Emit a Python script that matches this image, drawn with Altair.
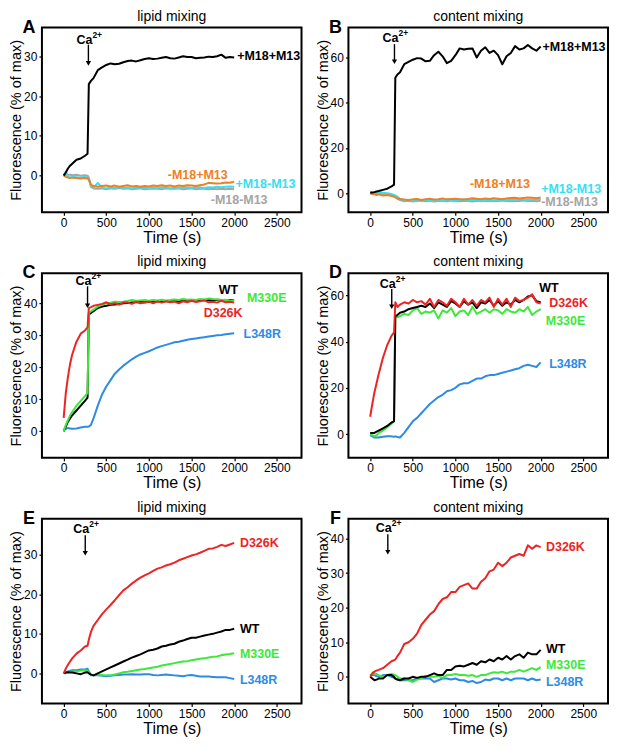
import altair as alt
import pandas as pd

FONT = "Liberation Sans"

# ---------------- data ----------------
TIME = [0, 25, 50, 75, 100, 150, 200, 250, 280, 295, 320, 350,
        400, 450, 500, 550, 600, 650, 700, 750, 800, 850,
        900, 950, 1000, 1050, 1100, 1150, 1200, 1250, 1300, 1350,
        1400, 1450, 1500, 1550, 1600, 1650, 1700, 1750, 1800, 1850,
        1900, 1950, 2000]

X_TICKS = [0, 500, 1000, 1500, 2000, 2500]

# Panel A - lipid mixing
A_PP = [0, 0.8, 1.8, 2.5, 3.0, 4.0, 4.3, 5.0, 5.5, 23.0, 23.8, 24.5,
        26.5, 27.2, 27.8, 28.2, 28.0, 28.1, 28.5, 28.8, 28.9, 28.7,
        29.0, 29.3, 29.5, 29.3, 29.4, 29.6, 29.8, 29.5, 29.4, 29.7,
        30.0, 29.8, 29.8, 29.5, 29.6, 29.7, 29.9, 29.8, 30.0, 30.4,
        29.6, 29.8, 29.7]
A_MP = [0, -0.3, -0.5, -0.6, -0.5, -0.6, -0.7, -0.6, -0.7, -1.0, -2.3, -2.6,
        -2.8, -2.6, -2.5, -2.7, -2.5, -2.8, -2.6, -2.4, -2.7, -2.6,
        -2.8, -2.6, -2.7, -2.5, -2.6, -2.4, -2.6, -2.5, -2.7, -2.5,
        -2.6, -2.4, -2.5, -2.6, -2.4, -2.2, -1.8, -1.9, -2.0, -1.9,
        -1.7, -1.8, -1.5]
A_PM = [0, 1.0, -0.2, -0.5, -0.3, -0.4, -0.5, -0.3, -0.5, -0.8, -2.5, -3.0,
        -1.8, -3.0, -3.2, -3.0, -3.1, -2.9, -3.1, -3.0, -3.2, -3.0,
        -3.1, -3.0, -3.2, -3.0, -3.1, -2.9, -3.0, -3.2, -3.0, -3.1,
        -2.9, -3.0, -3.1, -2.9, -3.0, -3.1, -2.9, -3.0, -2.8, -2.9,
        -2.8, -2.7, -2.8]
A_MM = [0, 0.3, 0.2, 0.2, 0.1, 0.2, 0.0, 0.1, 0.0, -0.5, -2.8, -3.2,
        -3.3, -3.2, -3.4, -3.2, -3.3, -3.1, -3.3, -3.2, -3.4, -3.3,
        -3.2, -3.4, -3.3, -3.2, -3.3, -3.4, -3.2, -3.3, -3.3, -3.2,
        -3.4, -3.3, -3.2, -3.4, -3.3, -3.3, -3.4, -3.3, -3.4, -3.3,
        -3.4, -3.3, -3.4]

# Panel B - content mixing
B_PP = [0.3, 0.3, 0.5, 0.8, 1.0, 1.5, 2.0, 3.0, 3.8, 51.0, 52.5, 53.5,
        57.0, 58.0, 59.0, 59.7, 59.5, 58.3, 58.5, 61.0, 62.5, 60.5,
        57.5, 58.5, 61.0, 64.0, 63.5, 63.8, 64.0, 60.0, 63.0, 64.5,
        62.0, 63.0, 61.0, 57.0, 60.5, 62.0, 65.0, 63.5, 64.0, 65.5,
        64.0, 63.0, 64.8]
B_MP = [0, -0.3, -0.5, -0.8, -0.5, -1.0, -0.8, -1.2, -1.5, -1.8, -2.2, -2.5,
        -2.8, -3.0, -2.7, -2.5, -3.0, -2.6, -2.4, -2.8, -2.6, -2.3,
        -2.7, -2.5, -2.4, -2.6, -2.8, -2.5, -2.2, -2.4, -2.6, -2.3,
        -2.5, -2.2, -2.4, -2.6, -2.3, -2.1, -2.0, -2.3, -2.1, -1.9,
        -2.0, -2.2, -1.9]
B_PM = [0, 0.3, 0.5, 0.3, 0.4, 0.2, 0.0, -0.3, -0.8, -1.0, -1.5, -2.5,
        -3.2, -3.0, -3.4, -3.1, -3.3, -2.9, -3.2, -3.4, -3.0, -3.3,
        -2.8, -3.1, -3.3, -3.0, -2.8, -3.2, -3.0, -2.9, -3.3, -3.1,
        -2.9, -3.2, -3.0, -2.9, -3.1, -2.8, -3.0, -2.7, -2.9, -3.0,
        -2.8, -2.6, -2.7]
B_MM = [0, 0.0, -0.2, -0.3, -0.2, -0.5, -0.6, -0.8, -1.2, -1.5, -2.5, -3.0,
        -3.5, -3.3, -3.6, -3.4, -3.2, -3.5, -3.3, -3.6, -3.4, -3.3,
        -3.5, -3.2, -3.4, -3.5, -3.3, -3.4, -3.6, -3.3, -3.5, -3.4,
        -3.3, -3.5, -3.4, -3.2, -3.4, -3.5, -3.3, -3.4, -3.2, -3.4,
        -3.3, -3.5, -3.3]

# Panel C - lipid mixing (mutants)
C_WT = [0, 1.5, 3.0, 4.0, 5.0, 6.5, 8.0, 9.5, 10.5, 36.5, 37.0, 37.5,
        38.5, 39.0, 39.2, 39.5, 39.6, 39.8, 40.0, 40.1, 40.2, 40.3,
        40.4, 40.3, 40.5, 40.4, 40.6, 40.5, 40.7, 40.6, 40.8, 40.6,
        40.8, 40.7, 40.9, 40.8, 41.0, 40.9, 41.0, 40.9, 41.1, 41.0,
        40.9, 41.0, 40.9]
C_D326K = [4.2, 12.0, 17.0, 21.0, 24.0, 28.0, 30.5, 31.5, 32.5, 38.5, 38.8, 39.2,
           39.5, 39.8, 40.3, 39.7, 40.0, 39.6, 40.3, 40.2, 39.8, 40.5,
           40.0, 40.2, 40.5, 40.0, 40.6, 40.2, 40.6, 40.3, 40.5, 40.0,
           40.6, 40.3, 40.8, 40.4, 40.6, 40.9, 40.3, 40.5, 40.2, 40.8,
           40.3, 40.5, 40.2]
C_M330E = [0, 2.0, 3.5, 5.0, 6.0, 8.0, 9.5, 11.0, 12.0, 37.0, 37.5, 38.0,
           39.0, 39.5, 40.0, 40.2, 40.5, 40.4, 40.5, 40.7, 41.0, 40.8,
           40.9, 41.0, 40.8, 41.0, 40.9, 41.1, 40.9, 41.0, 41.2, 41.0,
           41.3, 41.1, 41.2, 41.0, 41.3, 41.2, 41.5, 41.3, 41.2, 41.0,
           41.1, 40.9, 40.8]
C_L348R = [0.5, 0.8, 1.0, 0.9, 0.8, 0.9, 1.2, 1.4, 1.4, 1.5, 2.0, 4.0,
           8.0, 11.5, 14.0, 16.0, 18.0, 19.3, 20.5, 21.5, 22.5, 23.3,
           24.0, 24.5, 25.0, 25.6, 26.2, 26.6, 27.0, 27.4, 27.8, 28.0,
           28.3, 28.6, 28.8, 29.0, 29.2, 29.4, 29.6, 29.8, 30.0, 30.1,
           30.3, 30.5, 30.6]

# Panel D - content mixing (mutants)
D_WT = [0.5, 0.5, 0.5, 1.0, 1.5, 2.5, 3.5, 5.0, 5.5, 51.0, 51.5, 52.5,
        53.0, 54.0, 54.5, 55.0, 55.5, 55.0, 56.5, 54.5, 57.0, 56.0,
        55.0, 57.5, 56.5, 55.0, 57.5, 56.0, 57.0, 54.5, 57.0, 56.5,
        58.0, 55.5, 57.5, 55.5, 57.0, 56.0, 58.0, 57.0, 58.0, 59.5,
        60.0, 57.5, 57.0]
D_D326K = [7.5, 13.0, 18.0, 22.0, 26.0, 33.0, 38.5, 42.5, 44.0, 57.0, 55.0, 56.0,
           57.0, 56.5, 58.0, 57.0, 57.5, 56.0, 58.5, 55.0, 58.0, 57.0,
           55.5, 58.5, 57.0, 55.0, 58.5, 56.0, 58.0, 55.5, 58.0, 57.0,
           59.0, 55.0, 58.5, 56.0, 58.5, 55.0, 59.0, 57.5, 58.0, 59.0,
           60.5, 57.0, 56.5]
D_M330E = [0, -0.5, -1.0, -0.5, 0.5, 1.5, 3.0, 4.5, 5.5, 51.5, 50.5, 51.0,
           52.0, 51.5, 53.5, 54.5, 52.0, 53.0, 52.5, 53.5, 50.0, 53.5,
           52.5, 54.5, 51.0, 53.0, 53.5, 51.5, 55.0, 52.0, 53.0, 54.0,
           52.5, 54.0, 53.5, 52.0, 54.0, 53.0, 52.5, 54.0, 53.0, 55.0,
           51.5, 53.0, 54.0]
D_L348R = [-0.5, -1.0, -1.5, -1.5, -1.5, -1.2, -1.0, -1.0, -1.2, -1.0, -1.3, -1.5,
           0.5, 3.0, 5.5, 7.0, 9.0, 11.0, 13.0, 14.5, 16.0, 17.0,
           18.5, 19.0, 20.0, 21.5, 22.0, 22.0, 23.0, 24.0, 24.0, 25.0,
           25.5, 25.5, 26.0, 26.5, 27.0, 27.5, 28.0, 28.5, 29.5, 30.0,
           29.5, 29.0, 31.0]

# Panel E - lipid mixing (mutants)
E_WT = [0, 0.2, 0.3, 0.2, 0.2, 0.0, -0.2, 0.2, 0.3, 0.0, -0.3, -0.5,
        0.0, 0.5, 1.0, 1.5, 2.0, 2.5, 3.0, 3.5, 4.0, 4.4,
        4.8, 5.3, 5.8, 6.0, 6.3, 6.8, 7.0, 7.3, 7.5, 8.0,
        8.3, 8.7, 9.0, 9.0, 9.3, 9.6, 9.8, 10.0, 10.3, 10.6,
        11.0, 11.0, 11.3]
E_D326K = [0, 1.2, 2.2, 3.0, 3.8, 5.0, 5.8, 6.8, 7.0, 8.5, 10.5, 12.0,
           13.5, 15.0, 16.2, 17.3, 18.5, 19.8, 21.0, 21.8, 22.7, 23.5,
           24.2, 24.8, 25.3, 25.9, 26.5, 26.8, 27.3, 27.6, 28.0, 28.6,
           29.0, 29.4, 29.8, 30.1, 30.5, 31.0, 31.5, 31.6, 32.0, 32.5,
           32.2, 32.6, 33.0]
E_M330E = [0, 0.2, 0.3, 0.4, 0.5, 0.5, 0.7, 0.8, 0.7, 0.3, -0.5, -0.5,
           -0.3, -0.4, -0.5, -0.5, -0.3, 0.0, 0.3, 0.4, 0.6, 0.8,
           1.0, 1.1, 1.3, 1.5, 1.7, 2.0, 2.2, 2.4, 2.6, 2.8,
           3.0, 3.1, 3.3, 3.5, 3.7, 3.8, 4.0, 4.2, 4.3, 4.6,
           4.8, 4.9, 5.1]
E_L348R = [0, 0.3, 0.5, 0.7, 0.8, 0.8, 1.0, 1.0, 1.2, 0.5, -0.3, -0.5,
           -0.5, -0.6, -0.7, -0.6, -0.5, -0.4, -0.3, -0.3, -0.2, -0.3,
           -0.3, -0.2, -0.2, -0.4, -0.5, -0.4, -0.3, -0.4, -0.5, -0.6,
           -0.7, -0.5, -0.4, -0.6, -0.8, -0.8, -0.8, -0.9, -1.0, -1.0,
           -1.0, -1.2, -1.4]

# Panel F - content mixing (mutants)
F_WT = [0, -0.5, -1.0, -0.8, -0.5, -0.5, 0.5, 0.5, 0.0, -0.5, -0.8, -1.0,
        -0.5, -0.5, 0.0, -0.3, 0.0, 0.0, 0.5, 1.0, 0.5, 0.5,
        2.0, 2.0, 3.0, 3.2, 3.0, 3.5, 4.0, 3.5, 4.5, 4.2,
        5.0, 4.5, 5.5, 5.0, 6.0, 5.0, 6.0, 6.5, 5.5, 7.0,
        6.5, 6.5, 7.8]
F_D326K = [0, 1.0, 1.5, 1.8, 2.0, 2.5, 3.5, 4.5, 4.8, 5.0, 6.0, 7.0,
           9.5, 10.0, 11.0, 12.5, 15.0, 16.5, 18.0, 19.0, 21.0, 22.5,
           23.0, 24.5, 24.5, 26.0, 26.5, 27.0, 25.5, 25.5, 27.5, 28.5,
           30.5, 31.0, 33.0, 32.0, 33.0, 34.5, 35.0, 35.5, 35.0, 38.0,
           37.0, 38.0, 37.5]
F_M330E = [0.5, 0.8, 1.0, 0.8, 0.5, 0.0, 0.5, 0.8, 0.6, 0.5, 0.0, -0.5,
           -0.5, -1.0, -1.5, -0.8, -0.5, 0.3, 0.0, 0.0, 0.3, -0.3,
           0.5, 0.5, 0.8, 0.5, 0.5, 0.3, 0.5, 0.0, 0.5, 0.5,
           1.0, 1.3, 1.2, 1.5, 1.0, 1.5, 1.5, 2.0, 1.5, 2.0,
           2.5, 2.0, 2.8]
F_L348R = [0.3, 0.5, 0.5, 0.2, 0.0, 0.5, 0.5, 0.0, -0.3, -0.5, -0.8, -1.0,
           -1.0, -1.0, -1.0, -0.5, -0.5, -0.5, -0.5, -1.5, -1.0, -0.5,
           -0.5, -0.8, -0.5, -1.0, -1.0, -1.5, -1.2, -1.8, -1.5, -0.8,
           -1.0, -0.5, -0.5, -1.0, -0.5, -1.0, -0.5, -0.5, -0.5, -1.0,
           -0.5, -1.0, -0.8]

# Series labels: (text, t-left, value)
A_LABELS = [("+M18+M13", 2035, 30.0), ("-M18+M13", 1221, 0.2),
            ("+M18-M13", 2015, -2.2), ("-M18-M13", 1725, -6.1)]
B_LABELS = [("+M18+M13", 2021, 64.4), ("-M18+M13", 1170, 4.0),
            ("+M18-M13", 2006, 2.0), ("-M18-M13", 2006, -3.7)]
C_LABELS = [("WT", 1818, 44.0), ("M330E", 2150, 41.5),
            ("D326K", 1643, 37.1), ("L348R", 2110, 30.5)]
D_LABELS = [("WT", 1983, 63.1), ("D326K", 2100, 56.9),
            ("M330E", 2060, 49.1), ("L348R", 2100, 30.1)]
E_LABELS = [("D326K", 2067, 33.0), ("WT", 2067, 11.3),
            ("M330E", 2067, 5.0), ("L348R", 2067, -1.7)]
F_LABELS = [("D326K", 2062, 37.6), ("WT", 2062, 8.1),
            ("M330E", 2062, 3.4), ("L348R", 2062, -1.5)]

# Ca2+ arrows: (time, text value, arrow top, arrow tip)
A_CA = (290, 34.0, 32.9, 28.2)
B_CA = (285, 68.4, 65.9, 58.1)
C_CA = (280, 46.9, 45.3, 39.2)
D_CA = (253, 64.9, 62.8, 55.1)
E_CA = (253, 36.6, 34.9, 30.4)
F_CA = (207, 43.1, 41.2, 36.0)

Y_DOMS = {"A": [-9.2, 37.2], "B": [-8.4, 73.2], "C": [-8.3, 49.4],
          "D": [-10.3, 69.6], "E": [-7.6, 39.1], "F": [-7.7, 45.7]}
Y_TICKS = {"A": [0, 10, 20, 30], "B": [0, 20, 40, 60], "C": [0, 10, 20, 30, 40],
           "D": [0, 20, 40, 60], "E": [0, 10, 20, 30], "F": [0, 10, 20, 30, 40]}

BLACK = "#000000"
ORANGE = "#F07E22"
CYAN = "#35E0F2"
GRAY = "#A5A5A5"
RED = "#EE2424"
GREEN = "#3DE83A"
BLUE = "#2D8BE6"

X_DOM = [-255, 2790]
W, H = 260, 185


def panel(letter, title, series, labels, label_colors, ca):
    ydom = Y_DOMS[letter]
    yticks = Y_TICKS[letter]

    def xe(field):
        return alt.X(field + ":Q",
                     scale=alt.Scale(domain=X_DOM, nice=False, zero=False),
                     axis=alt.Axis(values=X_TICKS, format="d", title="Time (s)",
                                   titleFontWeight="normal", titleFontSize=16,
                                   titlePadding=1))

    def ye(field):
        return alt.Y(field + ":Q",
                     scale=alt.Scale(domain=ydom, nice=False, zero=False),
                     axis=alt.Axis(values=yticks, format="d",
                                   title="Fluorescence (% of max)",
                                   titleFontWeight="normal", titleFontSize=14.5,
                                   titlePadding=1))

    layers = []
    for vals, color in series:
        df = pd.DataFrame({"t": TIME, "v": vals})
        layers.append(alt.Chart(df).mark_line(color=color, strokeWidth=2,
                                              strokeJoin="round")
                      .encode(x=xe("t"), y=ye("v")))

    ldf = pd.DataFrame({"txt": [l[0] for l in labels],
                        "t": [l[1] for l in labels],
                        "v": [l[2] for l in labels],
                        "c": label_colors})
    layers.append(alt.Chart(ldf).mark_text(align="left", baseline="middle",
                                           fontWeight="bold", fontSize=12.5,
                                           font=FONT)
                  .encode(x=xe("t"), y=ye("v"), text="txt:N",
                          color=alt.Color("c:N", scale=None)))

    cdf = pd.DataFrame({"t": [ca[0]], "yt": [ca[1]], "ya": [ca[2]], "yb": [ca[3]]})
    base = alt.Chart(cdf)
    layers.append(base.mark_text(text="Ca", align="right", baseline="middle",
                                 dx=4, fontWeight="bold", fontSize=12.5,
                                 font=FONT, color="black")
                  .encode(x=xe("t"), y=ye("yt")))
    layers.append(base.mark_text(text="2+", align="left", baseline="middle",
                                 dx=4, dy=-5, fontWeight="bold", fontSize=8.5,
                                 font=FONT, color="black")
                  .encode(x=xe("t"), y=ye("yt")))
    layers.append(base.mark_rule(color="black", strokeWidth=1.4)
                  .encode(x=xe("t"), y=ye("ya"), y2="yb:Q"))
    layers.append(base.mark_point(shape="triangle-down", filled=True, size=28,
                                  color="black", opacity=1)
                  .encode(x=xe("t"), y=ye("yb")))

    layers.append(base.mark_text(text=letter, align="center",
                                 baseline="alphabetic", fontWeight="bold",
                                 fontSize=18, font=FONT, color="black")
                  .encode(x=alt.value(-13), y=alt.value(5)))

    return alt.layer(*layers).properties(
        width=W, height=H,
        title=alt.Title(title, fontSize=14, fontWeight="normal", font=FONT,
                        offset=0, dy=5, color="black"))


pA = panel("A", "lipid mixing", [(A_MM, GRAY), (A_PM, CYAN), (A_MP, ORANGE), (A_PP, BLACK)],
           A_LABELS, [BLACK, ORANGE, CYAN, GRAY], A_CA)
pB = panel("B", "content mixing", [(B_MM, GRAY), (B_PM, CYAN), (B_MP, ORANGE), (B_PP, BLACK)],
           B_LABELS, [BLACK, ORANGE, CYAN, GRAY], B_CA)
pC = panel("C", "lipid mixing", [(C_L348R, BLUE), (C_WT, BLACK), (C_M330E, GREEN), (C_D326K, RED)],
           C_LABELS, [BLACK, GREEN, RED, BLUE], C_CA)
pD = panel("D", "content mixing", [(D_L348R, BLUE), (D_M330E, GREEN), (D_WT, BLACK), (D_D326K, RED)],
           D_LABELS, [BLACK, RED, GREEN, BLUE], D_CA)
pE = panel("E", "lipid mixing", [(E_L348R, BLUE), (E_M330E, GREEN), (E_WT, BLACK), (E_D326K, RED)],
           E_LABELS, [RED, BLACK, GREEN, BLUE], E_CA)
pF = panel("F", "content mixing", [(F_L348R, BLUE), (F_M330E, GREEN), (F_WT, BLACK), (F_D326K, RED)],
           F_LABELS, [RED, BLACK, GREEN, BLUE], F_CA)

chart = alt.vconcat(
    alt.hconcat(pA, pB, spacing=12),
    alt.hconcat(pC, pD, spacing=12),
    alt.hconcat(pE, pF, spacing=12),
    spacing=8, padding=0
).configure_view(
    stroke="black", strokeWidth=2
).configure_axis(
    grid=False, domain=False, tickColor="black", tickSize=3, tickWidth=1.2,
    labelColor="black", titleColor="black", labelFont=FONT, titleFont=FONT,
    labelFontSize=12, labelPadding=2, titleFontWeight="normal"
).configure_axisY(
    minExtent=17, maxExtent=17
)

chart.save("out.html", embed_options={"renderer": "svg", "actions": False})
